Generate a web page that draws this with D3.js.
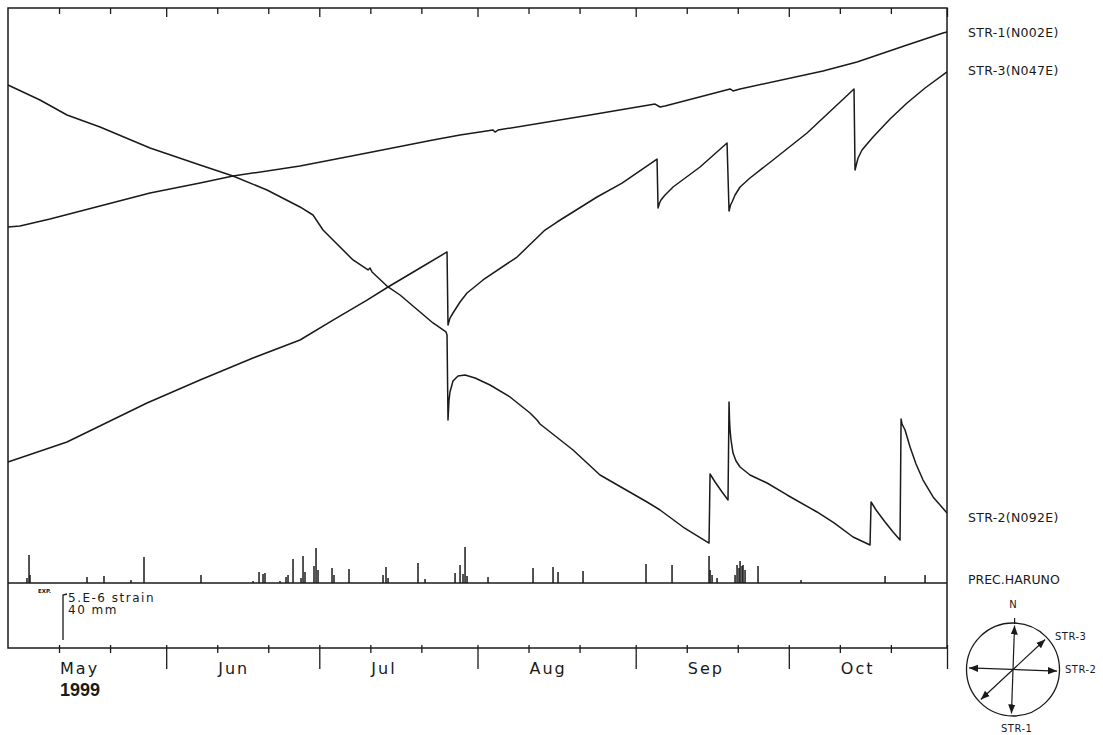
<!DOCTYPE html>
<html>
<head>
<meta charset="utf-8">
<script src="https://cdn.jsdelivr.net/npm/d3@7"></script>
<style>
  body { margin: 0; background: #fff; }
  svg { display: block; font-family: "DejaVu Sans", sans-serif; }
</style>
</head>
<body>
<svg id="chart"></svg>
<script>
// data: [days since 1999-05-01, strain in 1e-6]
const months = ["May", "Jun", "Jul", "Aug", "Sep", "Oct"];
const yearLabel = "1999";

const str1 = [
  [0, 39.56], [2.35, 39.67], [8.23, 40.44], [18.03, 41.89], [27.83, 43.33],
  [37.63, 44.44], [44.09, 45.22], [57.22, 46.33], [70.35, 47.78], [83.28, 49.22],
  [88.58, 49.78], [95.04, 50.33], [95.43, 50.11], [96.02, 50.33], [114.05, 52.0],
  [126.79, 53.22], [127.77, 52.89], [128.75, 53.0], [141.49, 54.89], [142.07, 54.67],
  [143.45, 54.89], [159.71, 56.89], [166.37, 57.89], [176.17, 59.78], [183.23, 61.11],
  [184, 61.22]
];

const str3 = [
  [0, 13.44], [11.56, 15.67], [27.24, 20.0], [37.63, 22.56], [48.01, 25.0],
  [57.22, 27.0], [63.69, 29.22], [70.35, 31.44], [74.47, 32.89], [80.74, 35.0],
  [86.03, 36.78], [86.22, 28.67], [86.61, 29.44], [87.2, 30.0], [88.58, 31.22],
  [89.95, 32.22], [93.08, 33.67], [99.75, 36.22], [105.23, 39.22], [107.58, 40.11],
  [115.42, 42.89], [120.32, 44.44], [127.18, 47.11], [127.38, 41.67], [127.67, 42.22],
  [127.96, 42.56], [128.75, 43.11], [130.32, 44.0], [135.61, 46.22], [140.9, 48.89],
  [141.29, 41.33], [141.58, 42.0], [141.88, 42.33], [142.47, 43.11], [143.45, 44.0],
  [145.4, 45.0], [149.91, 47.0], [156.57, 50.0], [165.78, 54.89], [165.98, 45.89],
  [166.27, 46.56], [166.57, 47.22], [167.35, 48.11], [168.33, 48.78], [169.51, 49.56],
  [172.84, 51.56], [176.17, 53.33], [179.7, 55.0], [184, 56.78]
];

const str2 = [
  [0, 55.33], [6.27, 53.67], [11.56, 52.0], [18.03, 50.67], [27.83, 48.33],
  [37.63, 46.44], [44.09, 45.22], [50.75, 43.67], [57.22, 41.78], [59.77, 40.89],
  [61.73, 39.22], [63.69, 38.11], [67.61, 35.89], [70.55, 34.78], [70.94, 35.0],
  [71.33, 34.56], [74.47, 32.89], [76.82, 32.0], [83.28, 28.89], [85.83, 27.89],
  [86.03, 27.56], [86.22, 18.11], [86.42, 20.33], [86.61, 21.22], [87.2, 22.44],
  [88.18, 23.0], [89.56, 23.11], [91.52, 22.78], [94.45, 22.0], [98.37, 20.67],
  [102.29, 18.89], [103.66, 18.11], [104.25, 17.67], [110.72, 14.78], [116.01, 12.0],
  [125.22, 9.0], [127.77, 8.11], [132.28, 6.22], [137.37, 4.44], [137.57, 12.11],
  [138.55, 11.22], [139.92, 10.11], [141.09, 9.22], [141.29, 20.11], [141.39, 18.11],
  [141.49, 17.0], [141.68, 15.89], [142.07, 14.44], [142.66, 13.56], [143.45, 12.89],
  [145.4, 12.0], [148.74, 11.11], [152.66, 9.78], [158.53, 7.89], [161.87, 6.67],
  [165.59, 5.11], [168.92, 4.22], [169.12, 9.0], [170.1, 8.11], [171.86, 6.78],
  [173.43, 5.67], [174.8, 4.78], [175.0, 18.22], [175.19, 17.67], [175.78, 17.0],
  [176.76, 15.11], [177.93, 13.22], [179.31, 11.44], [181.27, 9.56], [184, 7.78]
];

// precipitation at Haruno: [days since 1999-05-01, mm]
const prec = [
  [3.72, 4.4], [4.12, 24.9], [4.31, 7.1], [15.48, 5.3], [18.81, 6.2], [24.1, 2.7],
  [26.65, 23.1], [37.82, 7.1], [48.01, 1.8], [49.19, 9.8], [49.97, 8.0], [50.36, 8.9],
  [53.3, 1.8], [54.48, 5.3], [54.87, 7.1], [55.85, 21.3], [57.42, 4.4], [57.81, 24.0],
  [58.2, 9.8], [59.96, 15.1], [60.36, 31.1], [60.75, 11.6], [63.49, 13.3], [63.88, 7.1],
  [66.82, 12.4], [73.49, 7.1], [74.07, 14.2], [74.47, 4.4], [80.34, 17.8], [81.72, 3.6],
  [87.6, 8.9], [88.58, 16.0], [89.16, 8.0], [89.56, 32.0], [89.95, 6.2], [94.06, 5.3],
  [102.88, 13.3], [106.8, 14.2], [107.78, 9.8], [112.68, 10.7], [125.02, 16.9],
  [130.12, 16.0], [137.37, 24.0], [137.57, 11.6], [137.96, 7.1], [138.94, 4.4],
  [142.47, 7.1], [142.86, 16.0], [143.25, 13.3], [143.45, 19.6], [143.84, 15.1],
  [144.03, 16.0], [144.43, 11.6], [146.97, 15.1], [155.4, 2.7], [171.86, 6.2],
  [179.7, 7.1]
];

const seriesNames = ["STR-1(N002E)", "STR-3(N047E)", "STR-2(N092E)"];
const precName = "PREC.HARUNO";
const compassDirs = [
  { name: "STR-1", az: 2 },
  { name: "STR-3", az: 47 },
  { name: "STR-2", az: 92 }
];

// setting up svg
const W = 1103, H = 735;
const svg = d3.select("#chart").attr("width", W).attr("height", H);
svg.append("rect").attr("width", W).attr("height", H).attr("fill", "#fff");

const ink = "#1a1a1a";
const t0 = Date.UTC(1999, 4, 1);
const toDate = d => new Date(t0 + d * 864e5);

const xLeft = 8, xRight = 947, yTop = 8, yBottom = 648, precBase = 583;

// scales
const x = d3.scaleUtc()
  .domain([new Date(t0), new Date(Date.UTC(1999, 10, 1))])
  .range([xLeft, xRight]);
const y = d3.scaleLinear().domain([0, 64]).range([precBase, precBase - 64 * 9]);
const yP = d3.scaleLinear().domain([0, 40]).range([precBase, precBase - 45]);

// frame and precipitation baseline
svg.append("rect")
  .attr("x", xLeft).attr("y", yTop)
  .attr("width", xRight - xLeft).attr("height", yBottom - yTop)
  .attr("fill", "none").attr("stroke", ink).attr("stroke-width", 1.5);
svg.append("line")
  .attr("x1", xLeft).attr("x2", xRight)
  .attr("y1", precBase).attr("y2", precBase)
  .attr("stroke", ink).attr("stroke-width", 1.5);

// time ticks
const majorTicks = d3.utcMonth.range(new Date(Date.UTC(1999, 5, 1)), new Date(Date.UTC(1999, 10, 2)));
const minorTicks = months.flatMap((m, i) => [11, 21].map(dd => new Date(Date.UTC(1999, 4 + i, dd))));

function tickRow(vals, yPos, size) {
  svg.append("g")
    .attr("transform", `translate(0,${yPos})`)
    .call(d3.axisBottom(x).tickValues(vals).tickSize(size).tickFormat(""))
    .call(g => g.select(".domain").remove())
    .call(g => g.selectAll("line").attr("stroke", ink).attr("stroke-width", 1.3));
}
tickRow(majorTicks, yBottom - 3, 24);
tickRow(minorTicks, yBottom - 3, 8);
tickRow(majorTicks, yTop, 9);
tickRow(minorTicks, yTop, 6);

// month labels start at the 11th of each month
svg.append("g").selectAll("text")
  .data(months)
  .join("text")
    .attr("x", (d, i) => x(new Date(Date.UTC(1999, 4 + i, 11))) + 1)
    .attr("y", 674)
    .attr("font-size", 16)
    .attr("letter-spacing", 2)
    .attr("fill", ink)
    .text(d => d);
svg.append("text")
  .attr("x", x(new Date(Date.UTC(1999, 4, 11))) + 1)
  .attr("y", 696)
  .attr("font-family", "'Liberation Sans', Arial, sans-serif")
  .attr("font-weight", "bold")
  .attr("font-size", 18)
  .attr("fill", ink)
  .text(yearLabel);

// precipitation bars
svg.append("g").selectAll("line")
  .data(prec)
  .join("line")
    .attr("x1", d => x(toDate(d[0]))).attr("x2", d => x(toDate(d[0])))
    .attr("y1", yP(0)).attr("y2", d => yP(d[1]))
    .attr("stroke", ink).attr("stroke-width", 1.5);

// strain curves
const line = d3.line()
  .x(d => x(toDate(d[0])))
  .y(d => y(d[1]));
const allSeries = [str1, str3, str2];
svg.append("g").selectAll("path")
  .data(allSeries)
  .join("path")
    .attr("d", line)
    .attr("fill", "none")
    .attr("stroke", ink)
    .attr("stroke-width", 1.5)
    .attr("stroke-linejoin", "round");

// labels on the right
svg.append("g").selectAll("text")
  .data(seriesNames)
  .join("text")
    .attr("x", 968)
    .attr("y", (d, i) => y(allSeries[i][allSeries[i].length - 1][1]) + [5, 3, 9][i])
    .attr("font-size", 12.5)
    .attr("letter-spacing", 0.3)
    .attr("fill", ink)
    .text(d => d);
svg.append("text")
  .attr("x", 968).attr("y", precBase + 1)
  .attr("font-size", 12.5).attr("fill", ink)
  .text(precName);

// scale bar: 5e-6 strain / 40 mm
const barX = 63, barTop = 595;
svg.append("path")
  .attr("d", `M${barX + 4},${barTop - 1}L${barX},${barTop}L${barX},${barTop + y(0) - y(5)}`)
  .attr("fill", "none").attr("stroke", ink).attr("stroke-width", 1.3);
svg.append("text").attr("x", 68).attr("y", 602)
  .attr("font-size", 12).attr("letter-spacing", 1.5).attr("fill", ink)
  .text("5.E-6 strain");
svg.append("text").attr("x", 68).attr("y", 614)
  .attr("font-size", 12).attr("letter-spacing", 1.5).attr("fill", ink)
  .text("40 mm");
svg.append("text").attr("x", 38).attr("y", 593)
  .attr("font-size", 5.5).attr("font-weight", "bold").attr("fill", ink)
  .text("EXP.");

// compass
const cx = 1013, cy = 669.5, r = 46.5, arm = 44;
svg.append("defs").append("marker")
  .attr("id", "arr")
  .attr("viewBox", "0 0 10 10")
  .attr("refX", 10).attr("refY", 5)
  .attr("markerWidth", 9).attr("markerHeight", 9)
  .attr("markerUnits", "userSpaceOnUse")
  .attr("orient", "auto-start-reverse")
  .append("path").attr("d", "M0,1L10,5L0,9Z").attr("fill", ink);

const comp = svg.append("g");
comp.append("circle")
  .attr("cx", cx).attr("cy", cy).attr("r", r)
  .attr("fill", "none").attr("stroke", ink).attr("stroke-width", 1.3);
comp.selectAll("line.dir")
  .data(compassDirs)
  .join("line")
    .attr("class", "dir")
    .attr("x1", d => cx - arm * Math.sin(d.az * Math.PI / 180))
    .attr("y1", d => cy + arm * Math.cos(d.az * Math.PI / 180))
    .attr("x2", d => cx + arm * Math.sin(d.az * Math.PI / 180))
    .attr("y2", d => cy - arm * Math.cos(d.az * Math.PI / 180))
    .attr("stroke", ink).attr("stroke-width", 1.2)
    .attr("marker-start", "url(#arr)").attr("marker-end", "url(#arr)");
comp.append("line")
  .attr("x1", cx + 1.6).attr("x2", cx + 1.6)
  .attr("y1", cy - r - 5).attr("y2", cy - r + 1)
  .attr("stroke", ink).attr("stroke-width", 1.2);
comp.append("text").attr("x", cx).attr("y", 608)
  .attr("text-anchor", "middle").attr("font-size", 10).attr("fill", ink)
  .text("N");
comp.append("text").attr("x", 1055).attr("y", 640)
  .attr("font-size", 10).attr("letter-spacing", 0.5).attr("fill", ink).text("STR-3");
comp.append("text").attr("x", 1065).attr("y", 673)
  .attr("font-size", 10).attr("letter-spacing", 0.5).attr("fill", ink).text("STR-2");
comp.append("text").attr("x", 1001).attr("y", 732)
  .attr("font-size", 10).attr("letter-spacing", 0.5).attr("fill", ink).text("STR-1");
</script>
</body>
</html>
